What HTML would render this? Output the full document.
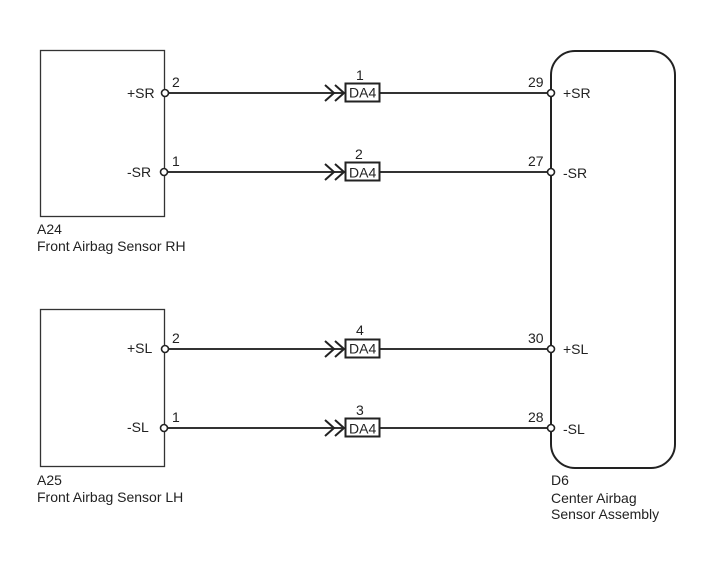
<!DOCTYPE html>
<html>
<head>
<meta charset="utf-8">
<style>
html,body{margin:0;padding:0;background:#fff;}
svg{display:block;}
text{font-family:"Liberation Sans",sans-serif;font-size:14px;fill:#222;}
.l{stroke:#333;stroke-width:2;fill:none;}
.b{stroke:#333;stroke-width:1.3;fill:none;}
.c{stroke:#222;stroke-width:2;fill:none;}
.p{stroke:#222;stroke-width:1.6;fill:#fff;}
.d{stroke:#222;stroke-width:2;fill:#fff;}
</style>
</head>
<body>
<svg width="713" height="579" viewBox="0 0 713 579" xmlns="http://www.w3.org/2000/svg">
<rect width="713" height="579" fill="#fff"/>
<rect class="b" x="40.5" y="50.5" width="124" height="166"/>
<rect class="b" x="40.5" y="309.5" width="124" height="157"/>
<rect x="551" y="51" width="124" height="417" rx="24" ry="24" fill="none" stroke="#222" stroke-width="2"/>

<path class="l" d="M165 93H345M380 93H551M165 172H345M380 172H551M165 349H345M380 349H551M165 428H345M380 428H551"/>

<g id="arrows">
<path class="c" d="M325 85L334 93L325 101M335 85L344 93L335 101"/>
<path class="c" d="M325 164L334 172L325 180M335 164L344 172L335 180"/>
<path class="c" d="M325 341L334 349L325 357M335 341L344 349L335 357"/>
<path class="c" d="M325 420L334 428L325 436M335 420L344 428L335 436"/>
</g>

<rect class="d" x="345.5" y="83.5" width="34" height="18"/>
<rect class="d" x="345.5" y="162.5" width="34" height="18"/>
<rect class="d" x="345.5" y="339.5" width="34" height="18"/>
<rect class="d" x="345.5" y="418.5" width="34" height="18"/>

<circle class="p" cx="165" cy="93" r="3.5"/>
<circle class="p" cx="164" cy="172" r="3.5"/>
<circle class="p" cx="165" cy="349" r="3.5"/>
<circle class="p" cx="164" cy="428" r="3.5"/>
<circle class="p" cx="551" cy="93" r="3.5"/>
<circle class="p" cx="551" cy="172" r="3.5"/>
<circle class="p" cx="551" cy="349" r="3.5"/>
<circle class="p" cx="551" cy="428" r="3.5"/>

<text x="127" y="98">+SR</text>
<text x="127" y="177">-SR</text>
<text x="127" y="353">+SL</text>
<text x="127" y="432">-SL</text>
<text x="172" y="87">2</text>
<text x="172" y="166">1</text>
<text x="172" y="343">2</text>
<text x="172" y="422">1</text>

<text x="356" y="80">1</text>
<text x="355" y="159">2</text>
<text x="356" y="335">4</text>
<text x="356" y="415">3</text>
<text x="349" y="97.500">DA4</text>
<text x="349" y="177.500">DA4</text>
<text x="349" y="353.500">DA4</text>
<text x="349" y="433.500">DA4</text>

<text x="528" y="87">29</text>
<text x="528" y="166">27</text>
<text x="528" y="343">30</text>
<text x="528" y="422">28</text>
<text x="563" y="98">+SR</text>
<text x="563" y="178">-SR</text>
<text x="563" y="354">+SL</text>
<text x="563" y="434">-SL</text>

<text x="37" y="234">A24</text>
<text x="37" y="251">Front Airbag Sensor RH</text>
<text x="37" y="485">A25</text>
<text x="37" y="502">Front Airbag Sensor LH</text>
<text x="551" y="485">D6</text>
<text x="551" y="503">Center Airbag</text>
<text x="551" y="519">Sensor Assembly</text>
</svg>
</body>
</html>
